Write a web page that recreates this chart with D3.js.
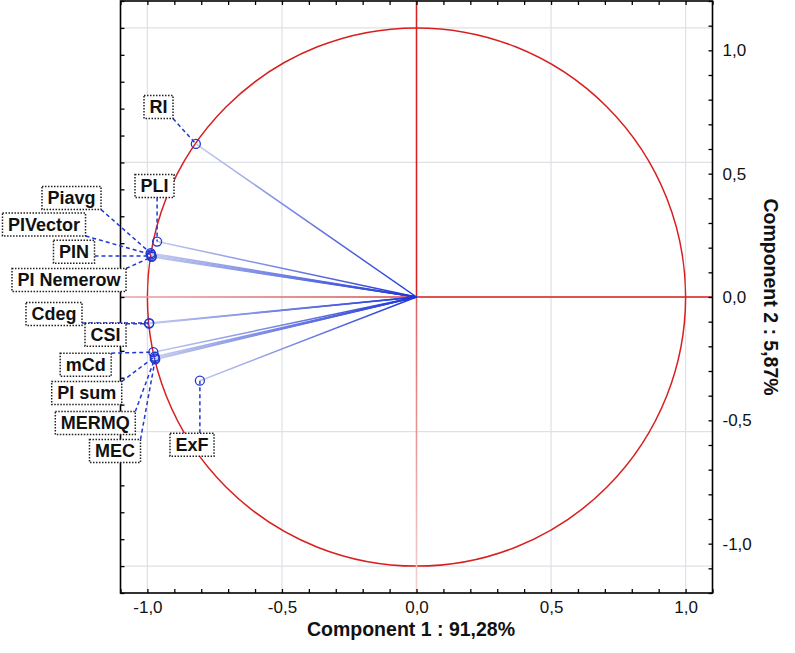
<!DOCTYPE html>
<html>
<head>
<meta charset="utf-8">
<script src="https://cdn.jsdelivr.net/npm/d3@7"></script>
<style>
body { margin: 0; background: #fff; }
text { font-family: "Liberation Sans", Arial, sans-serif; }
</style>
</head>
<body>
<div id="vis"></div>
<script>
// variable loadings on the first two components
var names = ["RI", "PLI", "Piavg", "PIVector", "PIN", "PI Nemerow", "Cdeg", "CSI", "mCd", "PI sum", "MERMQ", "MEC", "ExF"];
var comp1 = [-0.820, -0.964, -0.988, -0.987, -0.985, -0.984, -0.993, -0.994, -0.978, -0.973, -0.972, -0.971, -0.805];
var comp2 = [0.569, 0.206, 0.163, 0.158, 0.152, 0.149, -0.097, -0.099, -0.205, -0.222, -0.228, -0.232, -0.311];

var tickLabels = [-1.0, -0.5, 0.0, 0.5, 1.0];
var xTitle = "Component 1 : 91,28%";
var yTitle = "Component 2 : 5,87%";

// where the label boxes sit (box centre, pixels)
var labelPos = [
    [158.5, 107], [154.5, 186], [71.5, 198], [44, 224.5], [74, 251.7],
    [69, 280], [54, 314], [105.5, 334.7], [85.7, 364.7], [86.7, 393],
    [95.3, 423], [115, 451], [192, 444.7]
];

var width = 795, height = 653;
var pLeft = 120.5, pRight = 712.5, pTop = 1, pBottom = 593;

var svg = d3.select("#vis").append("svg")
    .attr("width", width)
    .attr("height", height);

var defs = svg.append("defs");

var x = d3.scaleLinear().domain([-1.1, 1.1]).range([pLeft, pRight]);
var y = d3.scaleLinear().domain([-1.1, 1.1]).range([pBottom, pTop]);
// the printed right axis runs on its own (wider) range
var yAxisScale = d3.scaleLinear().domain([-1.2, 1.2]).range([pBottom, pTop]);

var fmt = function(d) { return d3.format(".1f")(d).replace(".", ",").replace("\u2212", "-"); };
var minor = d3.range(-11, 12).map(function(d) { return d / 10; });
var minorY = d3.range(-12, 13).map(function(d) { return d / 10; });

var plot = svg.append("g");

// grid
plot.selectAll(".vgrid").data(tickLabels).enter().append("line")
    .attr("x1", function(d) { return x(d); }).attr("x2", function(d) { return x(d); })
    .attr("y1", pTop).attr("y2", pBottom)
    .attr("stroke", "#dde1e6").attr("stroke-width", 1.2);
plot.selectAll(".hgrid").data(tickLabels).enter().append("line")
    .attr("y1", function(d) { return y(d); }).attr("y2", function(d) { return y(d); })
    .attr("x1", pLeft).attr("x2", pRight)
    .attr("stroke", "#dde1e6").attr("stroke-width", 1.2);

// unit circle
var red = "#d81f1f";
plot.append("circle")
    .attr("cx", x(0)).attr("cy", y(0))
    .attr("r", x(1) - x(0))
    .attr("fill", "none")
    .attr("stroke", red)
    .attr("stroke-width", 1.5);

function fadeGrad(id, x1, y1, x2, y2, c0, c1) {
    var gr = defs.append("linearGradient")
        .attr("id", id)
        .attr("gradientUnits", "userSpaceOnUse")
        .attr("x1", x1).attr("y1", y1).attr("x2", x2).attr("y2", y2);
    gr.append("stop").attr("offset", "0%").attr("stop-color", c0);
    gr.append("stop").attr("offset", "100%").attr("stop-color", c1);
}

fadeGrad("redH", x(0), y(0), x(-1.1), y(0), "#d94848", "#eeaaaa");
fadeGrad("redV", x(0), y(0), x(0), y(-1.1), "#de6262", "#f4d2d2");

plot.append("line")
    .attr("x1", x(0)).attr("y1", y(0)).attr("x2", x(1.1)).attr("y2", y(0))
    .attr("stroke", red).attr("stroke-width", 1.5);
plot.append("line")
    .attr("x1", x(0)).attr("y1", y(0)).attr("x2", x(0)).attr("y2", y(1.1))
    .attr("stroke", red).attr("stroke-width", 1.5);
plot.append("line")
    .attr("x1", x(0)).attr("y1", y(0)).attr("x2", x(-1.1)).attr("y2", y(0) + 0.01)
    .attr("stroke", "url(#redH)").attr("stroke-width", 1.5);
plot.append("line")
    .attr("x1", x(0)).attr("y1", y(0)).attr("x2", x(0) + 0.01).attr("y2", y(-1.1))
    .attr("stroke", "url(#redV)").attr("stroke-width", 1.5);

// vectors from the origin
var blue = "#2038d2";
names.forEach(function(n, i) {
    fadeGrad("vec" + i, x(0), y(0), x(comp1[i]), y(comp2[i]), "#1a33d8", "#c4cbee");
});
plot.selectAll(".vec").data(names).enter().append("line")
    .attr("x1", x(0)).attr("y1", y(0))
    .attr("x2", function(d, i) { return x(comp1[i]); })
    .attr("y2", function(d, i) { return y(comp2[i]); })
    .attr("stroke", function(d, i) { return "url(#vec" + i + ")"; })
    .attr("stroke-width", 1.5);

plot.selectAll(".pt").data(names).enter().append("circle")
    .attr("cx", function(d, i) { return x(comp1[i]); })
    .attr("cy", function(d, i) { return y(comp2[i]); })
    .attr("r", 4.5)
    .attr("fill", "none")
    .attr("stroke", blue)
    .attr("stroke-width", 1.3);

// axes and frame
function styleAxis(g) {
    g.select(".domain").remove();
    g.selectAll("line").attr("stroke", "#000").attr("stroke-width", 1.3);
    g.selectAll("text").attr("fill", "#111").style("font-size", "17px")
        .style("font-family", "'Liberation Sans', Arial, sans-serif");
}

svg.append("g").attr("transform", "translate(0," + pBottom + ")")
    .call(d3.axisBottom(x).tickValues(minor).tickSize(-4).tickSizeOuter(0).tickFormat(""))
    .call(styleAxis);
svg.append("g").attr("transform", "translate(0," + pBottom + ")")
    .call(d3.axisBottom(x).tickValues(tickLabels).tickSize(0).tickSizeOuter(0).tickPadding(8).tickFormat(fmt))
    .call(styleAxis);
svg.append("g").attr("transform", "translate(0," + pTop + ")")
    .call(d3.axisTop(x).tickValues(minor).tickSize(-4).tickSizeOuter(0).tickFormat(""))
    .call(styleAxis);
svg.append("g").attr("transform", "translate(" + pLeft + ",0)")
    .call(d3.axisLeft(y).tickValues(minor).tickSize(-4).tickSizeOuter(0).tickFormat(""))
    .call(styleAxis);
svg.append("g").attr("transform", "translate(" + pRight + ",0)")
    .call(d3.axisRight(yAxisScale).tickValues(minorY).tickSize(-4).tickSizeOuter(0).tickFormat(""))
    .call(styleAxis);
svg.append("g").attr("transform", "translate(" + pRight + ",0)")
    .call(d3.axisRight(yAxisScale).tickValues(tickLabels).tickSize(0).tickSizeOuter(0).tickPadding(10).tickFormat(fmt))
    .call(styleAxis);

svg.append("rect")
    .attr("x", pLeft).attr("y", pTop)
    .attr("width", pRight - pLeft).attr("height", pBottom - pTop)
    .attr("fill", "none")
    .attr("stroke", "#000")
    .attr("stroke-width", 1.6);

// titles
svg.append("text")
    .attr("x", 411).attr("y", 636)
    .attr("text-anchor", "middle")
    .style("font-size", "19.5px").style("font-weight", "bold")
    .attr("fill", "#111")
    .text(xTitle);
svg.append("text")
    .attr("transform", "translate(764,297) rotate(90)")
    .attr("text-anchor", "middle")
    .style("font-size", "19.5px").style("font-weight", "bold")
    .attr("fill", "#111")
    .text(yTitle);

// point labels with dashed leaders
var labels = svg.append("g");
names.forEach(function(n, i) {
    var g = labels.append("g");
    var t = g.append("text")
        .attr("x", labelPos[i][0]).attr("y", labelPos[i][1])
        .attr("dy", "0.35em")
        .attr("text-anchor", "middle")
        .style("font-size", "18px").style("font-weight", "bold")
        .attr("fill", "#111")
        .text(n);
    var w = t.node().getComputedTextLength() + 11, h = 23;
    var bx = labelPos[i][0] - w / 2, by = labelPos[i][1] - h / 2;
    var px = x(comp1[i]), py = y(comp2[i]);
    var sx = Math.max(bx, Math.min(px, bx + w)), sy = Math.max(by, Math.min(py, by + h));
    g.insert("line", "text")
        .attr("x1", sx).attr("y1", sy).attr("x2", px).attr("y2", py)
        .attr("stroke", blue).attr("stroke-width", 1.5)
        .attr("stroke-dasharray", "4,3");
    g.insert("rect", "text")
        .attr("x", bx).attr("y", by)
        .attr("width", w).attr("height", h)
        .attr("fill", "#fff")
        .attr("stroke", "#222")
        .attr("stroke-width", 1.5)
        .attr("stroke-dasharray", "1.5,1.5");
});
</script>
</body>
</html>
